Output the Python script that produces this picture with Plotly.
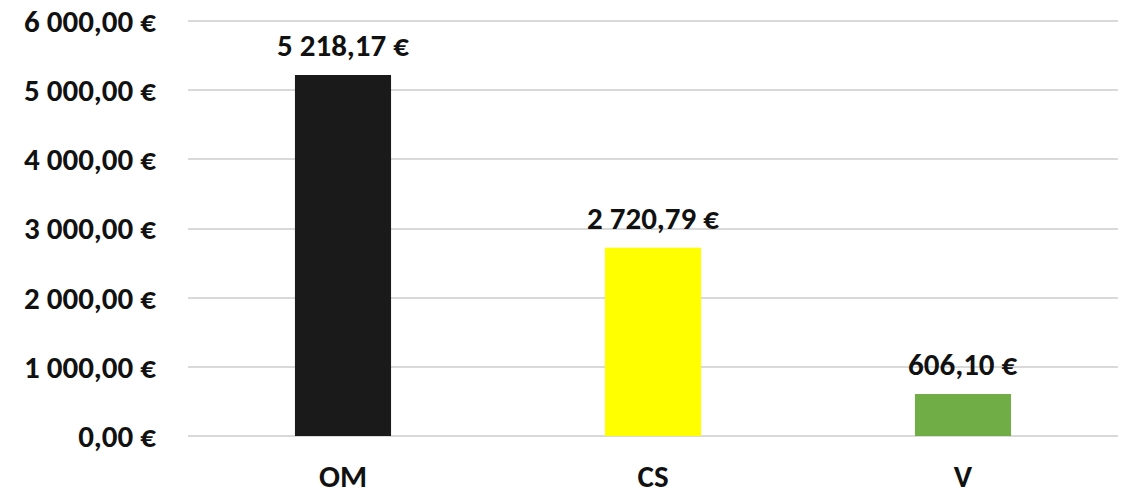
import plotly.graph_objects as go

categories = ["OM", "CS", "V"]
values = [5218.17, 2720.79, 606.10]
colors = ["#1a1a1a", "#ffff00", "#70ad47"]
tick_values = [0, 1000, 2000, 3000, 4000, 5000, 6000]


def fr_eur(v):
    s = f"{v:,.2f}"
    s = s.replace(",", " ").replace(".", ",")
    return s + " €"


FONT = "Carlito, Lato, 'Open Sans', sans-serif"
FS = 31

fig = go.Figure()
fig.add_trace(go.Bar(
    x=categories, y=values, marker=dict(color=colors, line=dict(width=0)),
    width=0.31, hoverinfo="skip",
))

for c, v in zip(categories, values):
    fig.add_annotation(x=c, y=v, text=f"<b>{fr_eur(v)}</b>", showarrow=False,
                       yanchor="middle", yshift=30,
                       font=dict(family=FONT, size=FS, color="#111111"))

fig.update_layout(
    width=1121, height=482,
    margin=dict(l=180, r=11, t=9, b=54, autoexpand=False),
    paper_bgcolor="white", plot_bgcolor="white",
    showlegend=False,
    font=dict(family=FONT, size=FS, color="#111111"),
)
fig.update_yaxes(
    range=[0, 6058], tickvals=tick_values,
    ticktext=[f"<b>{fr_eur(t)}</b>" for t in tick_values],
    showgrid=True, gridcolor="#d9d9d9", gridwidth=1.5,
    zeroline=True, zerolinecolor="#d9d9d9", zerolinewidth=1.5,
    showline=False, ticks="", ticklabelstandoff=31, automargin=False,
    ticklabeloverflow="allow",
)
fig.update_xaxes(
    tickvals=categories, ticktext=[f"<b>{c}</b>" for c in categories],
    showline=False, ticks="", ticklabelstandoff=19, automargin=False,
    ticklabeloverflow="allow",
)

fig.write_html("out.html")
